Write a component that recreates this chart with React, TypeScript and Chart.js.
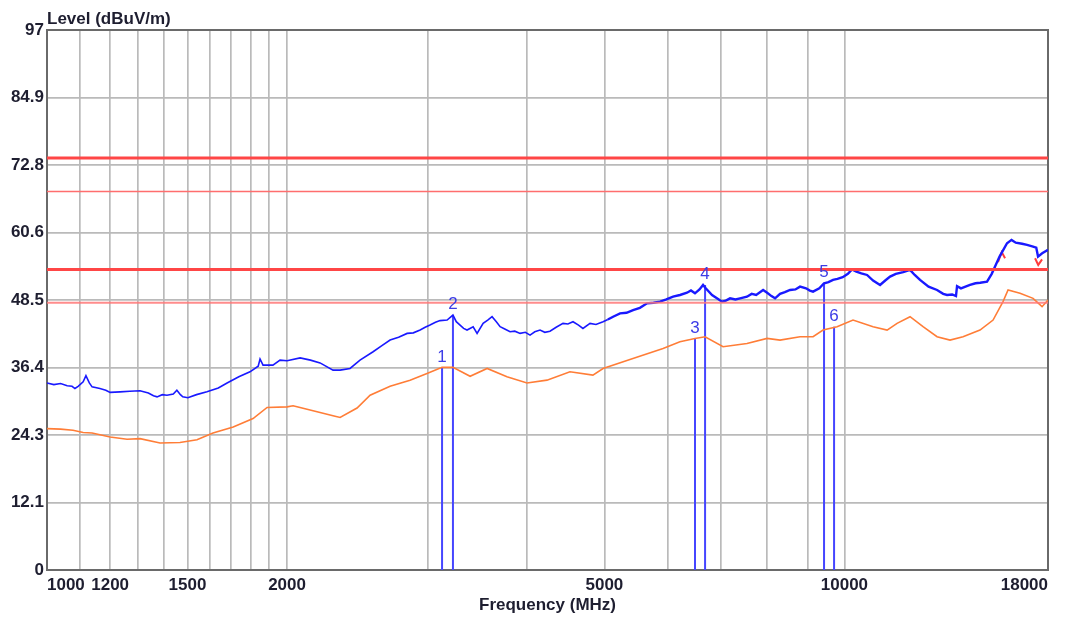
import React, { useEffect, useRef } from 'react';
import { Chart, registerables } from 'chart.js';

Chart.register(...registerables);

// Peak trace (blue)
const peakFreq = [
  1000, 1020, 1040, 1060, 1075, 1084, 1094, 1110, 1119, 1130, 1139, 1165, 1185, 1200, 1235, 1270, 1308, 1340, 1360, 1374,
  1395, 1414, 1440, 1455, 1470, 1480, 1502, 1540, 1587, 1640, 1682, 1740, 1797, 1840, 1850, 1866, 1920, 1960, 2000, 2077,
  2140, 2200, 2284, 2331, 2399, 2469, 2564, 2630, 2693, 2760, 2829, 2880, 2937, 2980, 3022, 3070, 3111, 3175, 3229, 3260,
  3296, 3330, 3363, 3423, 3462, 3523, 3570, 3615, 3660, 3700, 3750, 3808, 3860, 3920, 3980, 4034, 4090, 4152, 4210, 4273,
  4350, 4437, 4500, 4567, 4640, 4700, 4797, 4880, 4981, 5050, 5127, 5232, 5330, 5432, 5540, 5655, 5760, 5872, 5980, 6097,
  6220, 6347, 6420, 6495, 6580, 6648, 6700, 6823, 6920, 7023, 7100, 7187, 7300, 7398, 7547, 7650, 7750, 7907, 8000, 8100,
  8185, 8303, 8420, 8547, 8680, 8797, 8950, 9050, 9134, 9300, 9428, 9550, 9676, 9800, 9950, 10100, 10221, 10350, 10500, 10675,
  10862, 11084, 11250, 11409, 11600, 11850, 12086, 12250, 12439, 12750, 13066, 13300, 13448, 13650, 13800, 13842, 14000, 14370,
  14600, 14800, 15094, 15300, 15448, 15650, 15991, 16200, 16400, 16700, 16943, 17240, 17400, 17490, 17700, 18000,
];
const peakLevel = [
  33.6, 33.3, 33.5, 33.1, 33.0, 32.6, 33.0, 33.8, 34.9, 33.6, 32.9, 32.6, 32.3, 31.9, 32.0, 32.1, 32.2, 31.8, 31.3, 31.1,
  31.5, 31.4, 31.6, 32.3, 31.5, 31.1, 30.95, 31.5, 32.0, 32.7, 33.6, 34.7, 35.6, 36.6, 37.9, 36.8, 36.8, 37.7, 37.6, 38.1,
  37.7, 37.2, 35.9, 35.9, 36.2, 37.7, 39.2, 40.3, 41.3, 41.8, 42.5, 42.6, 43.1, 43.6, 44.0, 44.5, 44.8, 44.9, 45.8, 44.6,
  44.0, 43.4, 43.1, 43.7, 42.5, 44.3, 44.9, 45.5, 44.6, 43.7, 43.3, 42.8, 42.9, 42.5, 42.7, 42.2, 42.8, 43.1, 42.7, 42.9,
  43.6, 44.3, 44.2, 44.6, 44.0, 43.4, 44.3, 44.1, 44.6, 45.0, 45.5, 46.1, 46.2, 46.7, 47.1, 47.9, 48.0, 48.2, 48.6, 49.1,
  49.4, 49.8, 50.2, 49.7, 50.4, 51.2, 50.6, 49.4, 48.8, 48.2, 48.4, 48.8, 48.6, 48.8, 49.1, 49.6, 49.4, 50.3, 49.8, 49.2,
  48.8, 49.6, 49.9, 50.3, 50.4, 50.9, 50.6, 50.2, 50.0, 50.6, 51.5, 51.7, 52.1, 52.3, 52.6, 53.2, 54.0, 53.6, 53.3, 53.0,
  52.0, 51.2, 52.0, 52.7, 53.2, 53.5, 53.9, 53.0, 52.1, 50.9, 50.3, 49.6, 49.4, 49.5, 49.2, 51.0, 50.6, 51.2,
  51.5, 51.6, 51.8, 53.2, 54.5, 56.3, 58.7, 59.3, 58.8, 58.6, 58.4, 58.1, 57.9, 56.3, 56.9, 57.5,
];

// Peak trace portions drawn in red
const redFreq = [15580, 15750, 15900, 16000, 17340, 17500, 17694];
const redLevel = [55.3, 57.1, 56.0, null, 56.0, 54.8, 55.8];

// Average trace (orange)
const avgFreq = [
  1000, 1040, 1078, 1110, 1139, 1200, 1260, 1308, 1386, 1468, 1542, 1615, 1712, 1813, 1888, 2000, 2035, 2156, 2284, 2331,
  2448, 2542, 2693, 2853, 2996, 3129, 3229, 3393, 3564, 3774, 3999, 4236, 4527, 4837, 4981, 5383, 5923, 6219, 6495, 6687,
  7044, 7547, 7998, 8303, 8797, 9134, 9401, 9789, 10251, 10862, 11311, 11641, 12086, 12548, 13066, 13565, 14084, 14791,
  15360, 15808, 16039, 16603, 17240, 17694, 18000,
];
const avgLevel = [
  25.4, 25.3, 25.1, 24.7, 24.6, 23.9, 23.5, 23.6, 22.8, 22.9, 23.4, 24.6, 25.7, 27.2, 29.2, 29.3, 29.5, 28.6, 27.7, 27.4,
  29.1, 31.4, 33.0, 34.1, 35.3, 36.4, 36.4, 34.8, 36.2, 34.7, 33.6, 34.1, 35.6, 35.0, 36.2, 37.8, 39.8, 41.0, 41.6, 41.9,
  40.1, 40.7, 41.6, 41.3, 41.9, 41.9, 43.1, 43.7, 44.9, 43.7, 43.1, 44.3, 45.5, 43.7, 41.9, 41.3, 41.9, 43.1,
  44.9, 48.2, 50.3, 49.7, 48.8, 47.3, 48.5,
];

// Limit lines
const limitLevels = [74, 68, 54, 48];
const limitWidths = [3, 1.5, 3, 2];
const limitColors = ['rgb(255,70,70)', 'rgb(255,110,110)', 'rgb(255,70,70)', 'rgba(255,120,120,0.85)'];

// Markers
const markerIds = ['1', '2', '3', '4', '5', '6'];
const markerFreq = [3129, 3229, 6495, 6687, 9428, 9705];
const markerLevel = [36.4, 45.8, 41.6, 51.2, 51.5, 43.7];

// Axes
const xMin = 1000;
const xMax = 18000;
const xGridValues = [1000, 1100, 1200, 1300, 1400, 1500, 1600, 1700, 1800, 1900, 2000, 3000, 4000, 5000, 6000, 7000, 8000, 9000, 10000, 18000];
const xLabelValues = [1000, 1200, 1500, 2000, 5000, 10000, 18000];
const yMax = 97;
const yTickLabels = ['0', '12.1', '24.3', '36.4', '48.5', '60.6', '72.8', '84.9', '97'];

const FONT = "'Liberation Sans', Arial, sans-serif";
const TEXT_COLOR = '#1e1e30';

export default function App() {
  const ref = useRef<HTMLCanvasElement | null>(null);

  useEffect(() => {
    if (!ref.current) return;
    const datasets: any[] = [];
    limitLevels.forEach((lv, i) => {
      datasets.push({
        data: [{ x: xMin, y: lv }, { x: xMax, y: lv }],
        borderColor: limitColors[i],
        borderWidth: limitWidths[i],
        pointRadius: 0,
      });
    });
    datasets.push({
      data: avgFreq.map((f, i) => ({ x: f, y: avgLevel[i] })),
      borderColor: 'rgb(255,125,55)',
      borderWidth: 1.6,
      pointRadius: 0,
    });
    datasets.push({
      data: peakFreq.map((f, i) => ({ x: f, y: peakLevel[i] })),
      borderColor: 'rgb(25,25,255)',
      borderWidth: 1.6,
      pointRadius: 0,
      segment: {
        borderWidth: (ctx: any) => (ctx.p0.parsed.x > 5000 ? 2.4 : 1.6),
      },
    });
    datasets.push({
      data: redFreq.map((f, i) => ({ x: f, y: redLevel[i] })),
      borderColor: 'rgb(255,60,60)',
      borderWidth: 2,
      pointRadius: 0,
      spanGaps: false,
    });
    markerFreq.forEach((f, i) => {
      datasets.push({
        data: [{ x: f, y: 0 }, { x: f, y: markerLevel[i] }],
        borderColor: 'rgb(70,70,255)',
        borderWidth: 2,
        pointRadius: 0,
      });
    });

    const overlay = {
      id: 'overlay',
      beforeDatasetsDraw(chart: any) {
        const { ctx, chartArea } = chart;
        ctx.save();
        ctx.strokeStyle = '#6a6a6a';
        ctx.lineWidth = 2;
        ctx.strokeRect(chartArea.left, chartArea.top, chartArea.right - chartArea.left, chartArea.bottom - chartArea.top);
        ctx.restore();
      },
      afterDatasetsDraw(chart: any) {
        const { ctx, chartArea } = chart;
        const xs = chart.scales.x;
        const ys = chart.scales.y;
        ctx.save();
        ctx.fillStyle = 'rgb(60,60,230)';
        ctx.font = `17px ${FONT}`;
        ctx.textAlign = 'center';
        ctx.textBaseline = 'bottom';
        markerIds.forEach((id, i) => {
          const px = xs.getPixelForValue(markerFreq[i]);
          const py = ys.getPixelForValue(markerLevel[i]);
          ctx.fillText(id, px, py - 2);
        });
        ctx.fillStyle = TEXT_COLOR;
        ctx.font = `bold 17px ${FONT}`;
        ctx.textAlign = 'left';
        ctx.textBaseline = 'alphabetic';
        ctx.fillText('Level (dBuV/m)', chartArea.left, 24);
        ctx.restore();
      },
    };

    const chart = new Chart(ref.current, {
      type: 'line',
      data: { datasets },
      options: {
        responsive: false,
        animation: false,
        devicePixelRatio: 1,
        layout: { padding: { left: 0, right: 20, top: 30, bottom: 0 } },
        plugins: { legend: { display: false }, tooltip: { enabled: false }, title: { display: false } },
        elements: { line: { tension: 0 } },
        scales: {
          x: {
            type: 'logarithmic',
            min: xMin,
            max: xMax,
            afterBuildTicks: (scale: any) => {
              scale.ticks = xGridValues.map((v) => ({ value: v }));
            },
            afterFit: (scale: any) => {
              scale.height = 49;
            },
            ticks: {
              autoSkip: false,
              maxRotation: 0,
              minRotation: 0,
              align: 'inner',
              padding: 5,
              color: TEXT_COLOR,
              font: { family: FONT, size: 17, weight: 'bold' },
              callback: (value: any) => (xLabelValues.includes(Number(value)) ? String(value) : ''),
            },
            grid: { color: '#bababa', lineWidth: 1.7, drawTicks: false },
            border: { display: true, color: '#5a5a5a', width: 2 },
            title: {
              display: true,
              text: 'Frequency (MHz)',
              color: TEXT_COLOR,
              font: { family: FONT, size: 17, weight: 'bold' },
              padding: { top: 0, bottom: 3 },
            },
          },
          y: {
            type: 'linear',
            min: 0,
            max: yMax,
            afterBuildTicks: (scale: any) => {
              scale.ticks = yTickLabels.map((_, i) => ({ value: (i * yMax) / (yTickLabels.length - 1) }));
            },
            afterFit: (scale: any) => {
              scale.width = 47;
            },
            ticks: {
              autoSkip: false,
              padding: 3,
              color: TEXT_COLOR,
              font: { family: FONT, size: 17, weight: 'bold' },
              callback: (_v: any, index: number) => yTickLabels[index],
            },
            grid: { color: '#bababa', lineWidth: 1.7, drawTicks: false },
            border: { display: true, color: '#5a5a5a', width: 2 },
          },
        },
      },
      plugins: [overlay],
    } as any);
    return () => chart.destroy();
  }, []);

  return (
    <div style={{ position: 'fixed', left: 0, top: 0, width: 1068, height: 619, background: '#fff' }}>
      <canvas ref={ref} width={1068} height={619} style={{ width: 1068, height: 619, display: 'block' }} />
    </div>
  );
}
